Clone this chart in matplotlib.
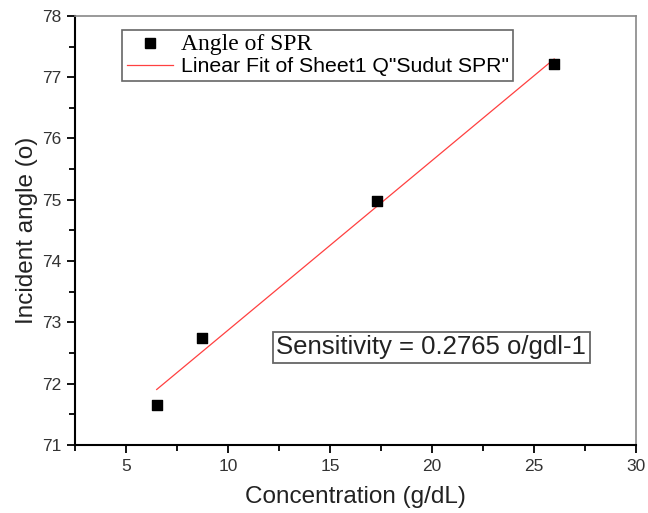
import numpy as np
import matplotlib.pyplot as plt
from matplotlib.ticker import MultipleLocator
from matplotlib.lines import Line2D

# data
conc = [6.5, 8.7, 17.3, 26.0]
angle = [71.65, 72.75, 74.98, 77.22]

x_ticks = [5, 10, 15, 20, 25, 30]
y_ticks = [71, 72, 73, 74, 75, 76, 77, 78]

plt.rcParams['font.family'] = ['Liberation Sans', 'DejaVu Sans']

fig = plt.figure(figsize=(6.48, 5.13), dpi=100)
ax = fig.add_axes([0.116, 0.133, 0.865, 0.836])

# linear fit
slope, intercept = np.polyfit(conc, angle, 1)
fit_x = np.array([conc[0], conc[-1]])
ax.plot(fit_x, slope * fit_x + intercept, color='#ff4040', lw=0.9, zorder=2)
ax.scatter(conc, angle, marker='s', s=45, color='black', zorder=3)

ax.set_xlim(2.5, 30)
ax.set_ylim(71, 78)
ax.set_xticks(x_ticks)
ax.set_yticks(y_ticks)
ax.xaxis.set_minor_locator(MultipleLocator(2.5))
ax.yaxis.set_minor_locator(MultipleLocator(0.5))
ax.tick_params(which='both', direction='out', colors='black', labelcolor='#333333',
               labelsize=12.5, width=1.3, pad=4)
ax.tick_params(which='major', length=6)
ax.tick_params(which='minor', length=4)
ax.tick_params(top=False, right=False)

for side in ['left', 'bottom']:
    ax.spines[side].set_linewidth(1.5)
    ax.spines[side].set_color('black')
for side in ['top', 'right']:
    ax.spines[side].set_linewidth(1.2)
    ax.spines[side].set_color('#888888')

ax.set_xlabel('Concentration (g/dL)', fontsize=17.5, color='#222222', labelpad=9)
ax.set_ylabel('Incident angle (o)', fontsize=17.5, color='#222222', labelpad=3)

handles = [
    Line2D([], [], marker='s', color='black', ls='none', markersize=6.5),
    Line2D([], [], color='#ff4040', lw=0.9),
]
leg = ax.legend(handles, ['Angle of SPR', 'Linear Fit of Sheet1 Q"Sudut SPR"'],
                loc='upper left', bbox_to_anchor=(0.084, 0.967), borderaxespad=0,
                fancybox=False, edgecolor='#666666', framealpha=1, borderpad=0.2,
                prop={'size': 15.3}, handlelength=2.2, handletextpad=0.35,
                labelspacing=0.1)
leg.get_frame().set_linewidth(1.2)
texts = leg.get_texts()
texts[0].set_fontfamily('Liberation Serif')
texts[0].set_fontsize(17)

ax.text(0.359, 0.227, 'Sensitivity = 0.2765 o/gdl-1', transform=ax.transAxes,
        fontsize=18.5, color='#222222', va='center', ha='left',
        bbox=dict(boxstyle='square,pad=0.15', fc='white', ec='#666666', lw=1.3))

fig.savefig('out.png', dpi=100)
